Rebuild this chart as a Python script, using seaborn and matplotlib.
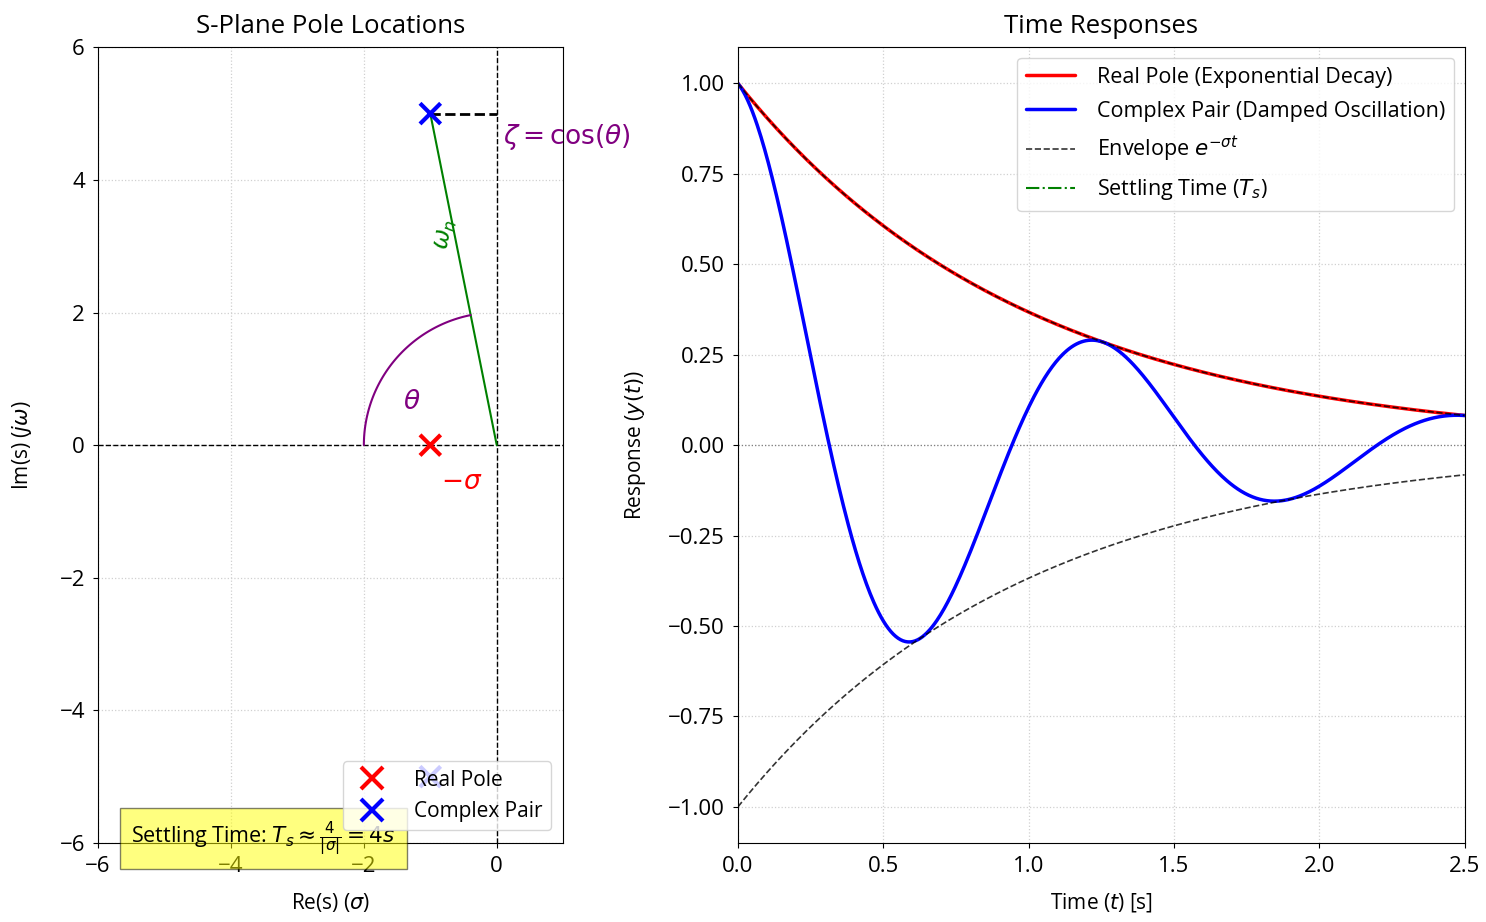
import numpy as np
import pandas as pd
import matplotlib
matplotlib.use("Agg")
import matplotlib.pyplot as plt
import seaborn as sns

# ---- data ----
sigma = 1.0            # real part magnitude of the poles
omega_d = 5.0          # imaginary part of the complex pair
real_pole = (-1.0, 0.0)
complex_pair_re = [-1.0, -1.0]
complex_pair_im = [5.0, -5.0]
settling_time = 4.0    # 4/|sigma|
t_max = 2.5

sns.set_style("ticks")
plt.rcParams['font.family'] = ['Open Sans', 'DejaVu Sans']
plt.rcParams['mathtext.fontset'] = 'dejavusans'
for k in ['text.color', 'axes.labelcolor', 'xtick.color', 'ytick.color', 'axes.edgecolor']:
    plt.rcParams[k] = 'black'

fig = plt.figure(figsize=(14.86, 9.22), dpi=100)
ax1 = fig.add_axes([0.066, 0.0857, 0.313, 0.863])
ax2 = fig.add_axes([0.4966, 0.0857, 0.489, 0.863])

grid_kw = dict(color='#d0d0d0', linestyle=':', linewidth=0.9)

# ---------- Left: s-plane ----------
ax1.set_xlim(-6, 1)
ax1.set_ylim(-6, 6)
ax1.grid(True, **grid_kw)
ax1.axhline(0, color='black', linestyle='--', linewidth=1)
ax1.axvline(0, color='black', linestyle='--', linewidth=1)

poles_df = pd.DataFrame({
    're': [real_pole[0]] + complex_pair_re,
    'im': [real_pole[1]] + complex_pair_im,
    'kind': ['Real Pole', 'Complex Pair', 'Complex Pair'],
})
sns.scatterplot(data=poles_df, x='re', y='im', hue='kind',
                palette={'Real Pole': 'red', 'Complex Pair': 'blue'},
                marker='x', s=220, linewidth=3, ax=ax1, zorder=5)

# geometric construction
ax1.plot([0, complex_pair_re[0]], [0, complex_pair_im[0]], color='green', linewidth=1.5)
ax1.plot([complex_pair_re[0], 0], [complex_pair_im[0], complex_pair_im[0]],
         color='black', linestyle='--', linewidth=2)
theta_pole = np.arctan2(complex_pair_im[0], complex_pair_re[0])
ang = np.linspace(theta_pole, np.pi, 100)
ax1.plot(2 * np.cos(ang), 2 * np.sin(ang), color='purple', linewidth=1.5)

ax1.text(-0.77, 3.18, r'$\omega_n$', color='green', fontsize=17,
         rotation=np.degrees(np.arctan2(omega_d, sigma)), ha='center', va='center')
ax1.text(-1.28, 0.65, r'$\theta$', color='purple', fontsize=19, ha='center', va='center')
ax1.text(-0.52, -0.57, r'$-\sigma$', color='red', fontsize=19, ha='center', va='center')
ax1.text(0.09, 4.65, r'$\zeta = \cos(\theta)$', color='purple', fontsize=19,
         ha='left', va='center')

ax1.text(-5.5, -5.93, r'Settling Time: $T_s \approx \frac{4}{|\sigma|} = 4s$',
         fontsize=15.5, ha='left', va='center', zorder=3,
         bbox=dict(facecolor='yellow', alpha=0.5, edgecolor='black', pad=8))

ax1.set_title('S-Plane Pole Locations', fontsize=18.5, pad=10)
ax1.set_xlabel(r'Re(s) ($\sigma$)', fontsize=15, labelpad=10)
ax1.set_ylabel(r'Im(s) ($j\omega$)', fontsize=15, labelpad=18)
ax1.set_xticks([-6, -4, -2, 0])
ax1.set_yticks([-6, -4, -2, 0, 2, 4, 6])
ax1.tick_params(labelsize=16, pad=6)
leg1 = ax1.legend(loc='lower right', fontsize=15, title=None, framealpha=0.8,
                  handletextpad=1.0, borderaxespad=0.6)
leg1.set_zorder(10)
for h in leg1.legend_handles:
    try:
        h.set_markersize(16)
        h.set_markeredgewidth(3)
    except AttributeError:
        pass

# ---------- Right: time responses ----------
t = np.linspace(0, t_max, 600)
y_real = np.exp(real_pole[0] * t)
y_cplx = np.exp(complex_pair_re[0] * t) * np.cos(omega_d * t)
env = np.exp(-sigma * t)

ax2.set_xlim(0, t_max)
ax2.set_ylim(-1.1, 1.1)
ax2.grid(True, **grid_kw)
ax2.axhline(0, color='gray', linestyle=':', linewidth=0.9)

sns.lineplot(x=t, y=y_real, color='red', linewidth=2.5, ax=ax2,
             label='Real Pole (Exponential Decay)')
sns.lineplot(x=t, y=y_cplx, color='blue', linewidth=2.5, ax=ax2,
             label='Complex Pair (Damped Oscillation)')
sns.lineplot(x=t, y=env, color='black', linestyle='--', linewidth=1.2, alpha=0.8,
             ax=ax2, label=r'Envelope $e^{-\sigma t}$')
sns.lineplot(x=t, y=-env, color='black', linestyle='--', linewidth=1.2, alpha=0.8,
             ax=ax2)
ax2.axvline(settling_time, color='green', linestyle='-.', linewidth=1.5,
            label=r'Settling Time ($T_s$)')

ax2.set_title('Time Responses', fontsize=18.5, pad=10)
ax2.set_xlabel(r'Time ($t$) [s]', fontsize=15, labelpad=10)
ax2.set_ylabel(r'Response ($y(t)$)', fontsize=15, labelpad=14)
ax2.set_xticks([0.0, 0.5, 1.0, 1.5, 2.0, 2.5])
ax2.set_xticklabels(['0.0', '0.5', '1.0', '1.5', '2.0', '2.5'])
ax2.set_yticks([-1.0, -0.75, -0.5, -0.25, 0.0, 0.25, 0.5, 0.75, 1.0])
ax2.set_yticklabels(['\u22121.00', '\u22120.75', '\u22120.50', '\u22120.25', '0.00',
                     '0.25', '0.50', '0.75', '1.00'])
ax2.tick_params(labelsize=16, pad=6)
ax2.legend(loc='upper right', fontsize=15.5, framealpha=0.8, labelspacing=0.6,
           handlelength=2.3, handletextpad=1.0)

fig.savefig('out.png', dpi=100)
